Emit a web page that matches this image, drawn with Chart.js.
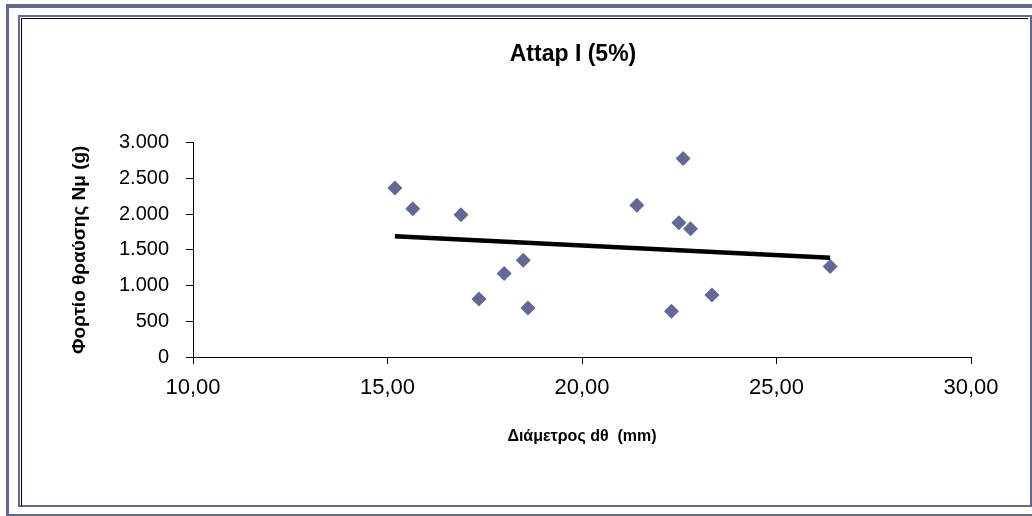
<!DOCTYPE html>
<html lang="el">
<head>
<meta charset="UTF-8">
<title>Attap I (5%)</title>
<script src="https://cdn.jsdelivr.net/npm/chart.js"></script>
<style>
    html, body {
        margin: 0;
        padding: 0;
        overflow: hidden;
        background: #fff;
    }
    #wrap {
        position: absolute;
        left: 0;
        top: 0;
        width: 1146px;
        height: 516px;
    }
    .frame {
        position: absolute;
        box-sizing: border-box;
        pointer-events: none;
    }
    #outer {
        left: 6px;
        top: 4px;
        width: 1100px;
        height: 512px;
        border-left: 3px solid #666699;
        border-top: 4px solid #666699;
        border-bottom: 2px solid #666699;
    }
    #inner {
        left: 18px;
        top: 15px;
        width: 1014px;
        height: 492px;
        border: 2px solid #666699;
    }
    #shade {
        left: 21px;
        top: 18px;
        width: 1007px;
        height: 488px;
        border-left: 1px solid #000;
        border-top: 1px solid #000;
    }
</style>
</head>
<body>
<div id="wrap"><canvas id="chart"></canvas></div>
<div class="frame" id="outer"></div>
<div class="frame" id="inner"></div>
<div class="frame" id="shade"></div>

<script>
    // diameter dθ (mm) and breaking load Nμ (g) per sample
    const diameter = [15.19, 15.65, 16.89, 17.35, 18.00, 18.49, 18.61, 21.41, 22.30, 22.60, 22.49, 22.79, 23.34, 26.38];
    const load = [2364, 2075, 1991, 813, 1168, 1354, 687, 2125, 639, 2776, 1879, 1795, 869, 1266];

    // linear trend line end points
    const trendX = [15.19, 26.38];
    const trendY = [1690, 1388];

    const xTicks = [10, 15, 20, 25, 30];
    const yTicks = [0, 500, 1000, 1500, 2000, 2500, 3000];

    const blue = '#666699';
    const font = 'Liberation Sans, Arial, sans-serif';

    function thousands(v) {
        return String(v).replace(/\B(?=(\d{3})+(?!\d))/g, '.');
    }

    new Chart(document.getElementById('chart'), {
        type: 'scatter',
        data: {
            datasets: [{
                type: 'line',
                data: trendX.map((x, i) => ({x: x, y: trendY[i]})),
                borderColor: '#000',
                borderWidth: 4.5,
                pointRadius: 0,
                fill: false,
                order: 0
            }, {
                data: diameter.map((x, i) => ({x: x, y: load[i]})),
                backgroundColor: blue,
                borderColor: blue,
                borderWidth: 0,
                pointStyle: 'rectRot',
                pointRadius: 7.5,
                order: 1
            }]
        },
        options: {
            responsive: true,
            maintainAspectRatio: false,
            animation: false,
            events: [],
            layout: { padding: 0 },
            plugins: {
                legend: { display: false },
                tooltip: { enabled: false },
                title: {
                    display: true,
                    text: 'Attap I (5%)',
                    color: '#000',
                    font: { family: font, size: 23, weight: 'bold' },
                    padding: { top: 41, bottom: 74 }
                }
            },
            scales: {
                x: {
                    type: 'linear',
                    min: 10,
                    max: 30,
                    afterBuildTicks: s => { s.ticks = xTicks.map(v => ({value: v})); },
                    afterFit: s => { s.height = 159; },
                    border: { display: true, color: '#000', width: 1 },
                    grid: { drawOnChartArea: false, drawTicks: true, tickLength: 7, color: '#000' },
                    ticks: {
                        color: '#000',
                        padding: 11,
                        maxRotation: 0,
                        font: { family: font, size: 22 },
                        callback: v => v.toFixed(2).replace('.', ',')
                    },
                    title: {
                        display: true,
                        text: 'Διάμετρος dθ  (mm)',
                        color: '#000',
                        font: { family: font, size: 16, weight: 'bold' },
                        padding: { top: 0, bottom: 70 }
                    }
                },
                y: {
                    type: 'linear',
                    min: 0,
                    max: 3000,
                    afterBuildTicks: s => { s.ticks = yTicks.map(v => ({value: v})); },
                    afterFit: s => { s.width = 193; },
                    border: { display: true, color: '#000', width: 1 },
                    grid: { drawOnChartArea: false, drawTicks: true, tickLength: 7, color: '#000' },
                    ticks: {
                        color: '#000',
                        padding: 17,
                        font: { family: font, size: 20 },
                        callback: v => thousands(v)
                    },
                    title: {
                        display: true,
                        text: 'Φορτίο θραύσης Nμ (g)',
                        color: '#000',
                        font: { family: font, size: 19, weight: 'bold' },
                        padding: { top: 68, bottom: 0 }
                    }
                },
                // empty band on the right so the title sits over the frame
                side: {
                    type: 'linear',
                    position: 'right',
                    display: true,
                    min: 0,
                    max: 1,
                    afterFit: s => { s.width = 175; },
                    border: { display: false },
                    grid: { display: false },
                    ticks: { display: false }
                }
            }
        }
    });
</script>
</body>
</html>
